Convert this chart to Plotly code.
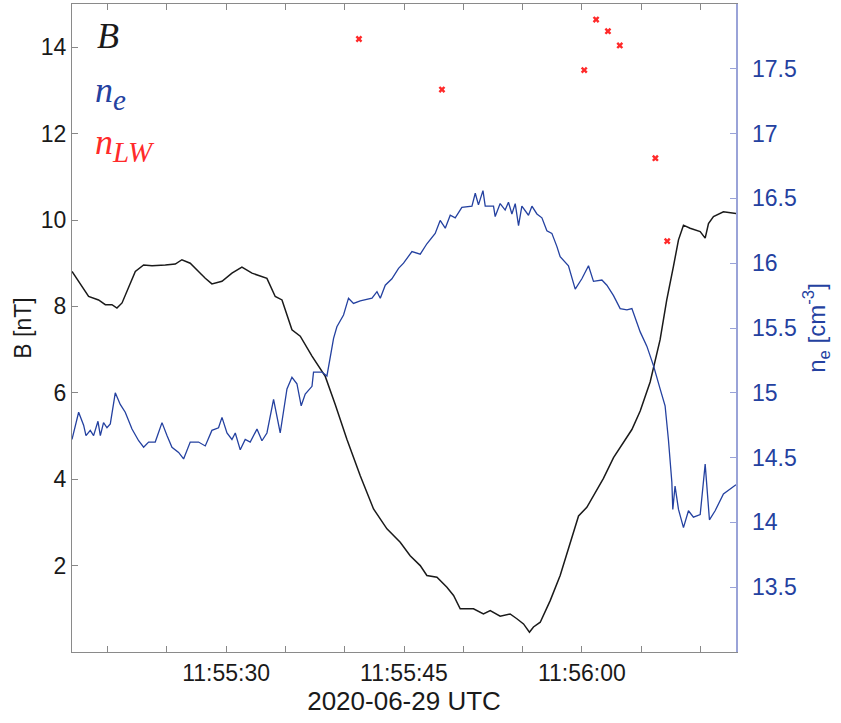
import plotly.graph_objects as go
import pandas as pd

DAY = "2020-06-29 11:55:00"

# Magnetic field |B| [nT]; time in seconds after 11:55:00
b_sec = [17.0, 18.40, 19.24, 19.81, 20.37, 20.79, 21.22, 21.77, 22.34, 23.04, 23.75, 24.87,
         25.71, 26.27, 26.97, 27.67, 28.24, 28.80, 29.65, 30.49, 31.33, 32.18, 33.44, 34.14,
         34.71, 35.55, 36.25, 37.24, 38.36, 39.20, 40.19, 41.31, 42.43, 43.56, 44.68, 45.52,
         46.37, 46.93, 47.78, 48.62, 49.18, 49.74, 50.86, 51.70, 52.27, 53.11, 53.95, 54.52,
         55.08, 55.58, 55.92, 56.49, 57.33, 58.17, 59.02, 59.72, 60.42, 61.27, 61.82, 62.67,
         63.51, 64.22, 64.92, 65.76, 66.60, 67.16, 67.72, 68.15, 68.57, 69.13, 69.98, 70.40,
         70.68, 71.10, 71.94, 73.0]
b_val = [8.81, 8.23, 8.15, 8.04, 8.04, 7.96, 8.08, 8.46, 8.81, 8.96, 8.94, 8.96,
         8.98, 9.08, 9.00, 8.81, 8.65, 8.52, 8.58, 8.77, 8.91, 8.77, 8.65, 8.23,
         8.15, 7.46, 7.31, 6.85, 6.38, 5.73, 4.92, 4.08, 3.31, 2.85, 2.54, 2.23,
         2.00, 1.77, 1.73, 1.50, 1.31, 1.00, 1.00, 0.88, 0.96, 0.83, 0.88, 0.77,
         0.65, 0.46, 0.58, 0.69, 1.19, 1.77, 2.50, 3.15, 3.35, 3.77, 4.02, 4.50,
         4.85, 5.15, 5.58, 6.25, 7.23, 8.15, 8.92, 9.54, 9.88, 9.81, 9.73, 9.58,
         9.92, 10.08, 10.19, 10.15]

# Electron density n_e [cm^-3]
ne_sec = [17.0, 17.56, 17.98, 18.18, 18.54, 18.82, 19.19, 19.39, 19.66, 19.95, 20.23, 20.65,
          21.07, 21.49, 22.06, 22.62, 23.04, 23.46, 24.02, 24.59, 25.01, 25.43, 25.99, 26.41,
          26.97, 27.67, 28.24, 28.80, 29.36, 29.65, 30.07, 30.49, 30.77, 31.19, 31.61, 32.03,
          32.60, 33.02, 33.44, 34.00, 34.56, 35.13, 35.55, 35.97, 36.33, 36.67, 37.24, 37.37,
          38.08, 38.50, 39.06, 39.34, 39.90, 40.32, 40.74, 41.31, 42.30, 42.72, 43.00, 43.42,
          43.98, 44.54, 44.96, 45.67, 46.37, 46.93, 47.63, 48.05, 48.48, 48.90, 49.32, 49.88,
          50.73, 51.01, 51.28, 51.66, 51.85, 52.55, 52.69, 53.11, 53.53, 53.81, 54.10, 54.38,
          54.66, 54.94, 55.50, 55.79, 56.21, 56.63, 57.05, 57.47, 57.89, 58.17, 58.87, 59.44,
          60.00, 60.56, 60.98, 61.69, 62.11, 62.67, 63.23, 63.80, 64.22, 64.92, 65.48, 66.04,
          66.60, 67.02, 67.30, 67.59, 67.67, 67.86, 68.15, 68.57, 68.99, 69.41, 69.98, 70.40,
          70.76, 71.24, 71.94, 72.51, 73.0]
ne_val = [14.64, 14.85, 14.75, 14.67, 14.71, 14.67, 14.78, 14.67, 14.77, 14.73, 14.76, 15.00,
          14.91, 14.85, 14.72, 14.63, 14.58, 14.62, 14.62, 14.77, 14.67, 14.58, 14.54, 14.49,
          14.62, 14.62, 14.59, 14.71, 14.73, 14.81, 14.69, 14.64, 14.69, 14.56, 14.64, 14.62,
          14.72, 14.63, 14.69, 14.95, 14.69, 15.03, 15.12, 15.07, 14.90, 14.99, 15.05, 15.16,
          15.16, 15.13, 15.42, 15.51, 15.60, 15.73, 15.69, 15.71, 15.73, 15.78, 15.73, 15.83,
          15.88, 15.96, 16.00, 16.09, 16.07, 16.15, 16.23, 16.33, 16.27, 16.37, 16.35, 16.43,
          16.44, 16.54, 16.45, 16.56, 16.44, 16.44, 16.36, 16.46, 16.41, 16.47, 16.38, 16.46,
          16.29, 16.44, 16.37, 16.44, 16.38, 16.35, 16.25, 16.23, 16.13, 16.05, 15.98, 15.80,
          15.88, 15.98, 15.86, 15.87, 15.83, 15.75, 15.65, 15.64, 15.65, 15.47, 15.36, 15.21,
          15.03, 14.90, 14.64, 14.31, 14.10, 14.28, 14.10, 13.96, 14.09, 14.04, 14.06, 14.45,
          14.02, 14.09, 14.22, 14.26, 14.29]

# n_LW estimates [cm^-3]
lw_sec = [41.2, 48.2, 60.2, 61.2, 62.2, 63.2, 66.2, 67.2]
lw_val = [17.73, 17.34, 17.49, 17.88, 17.79, 17.68, 16.81, 16.17]

b_ticks = [2, 4, 6, 8, 10, 12, 14]
ne_ticks = [13.5, 14, 14.5, 15, 15.5, 16, 16.5, 17, 17.5]
ne_tick_text = ["13.5", "14", "14.5", "15", "15.5", "16", "16.5", "17", "17.5"]
ne_range = [13, 18]


def to_time(secs):
    return pd.Timestamp(DAY) + pd.to_timedelta(secs, unit="s")


BLUE = "#2441a0"
RED = "#ff2a2a"
AXBLUE = "#9aa3d8"
FONT = "Liberation Sans"
TICK = 23

fig = go.Figure()
fig.add_trace(go.Scatter(x=to_time(ne_sec), y=ne_val, mode="lines", yaxis="y2",
                         line=dict(color=BLUE, width=1.3), showlegend=False))
fig.add_trace(go.Scatter(x=to_time(b_sec), y=b_val, mode="lines",
                         line=dict(color="#1a1a1a", width=1.5), showlegend=False))
fig.add_trace(go.Scatter(x=to_time(lw_sec), y=lw_val, mode="markers", yaxis="y2",
                         marker=dict(symbol="x", size=6, color=RED, line=dict(width=0)),
                         showlegend=False))

fig.update_layout(
    width=841, height=723,
    margin=dict(l=72, r=105, t=4, b=71),
    paper_bgcolor="white", plot_bgcolor="white",
    font=dict(family=FONT, size=TICK, color="#1a1a1a"),
    xaxis=dict(
        range=[to_time(17.0), to_time(73.0)],
        tick0=to_time(0.0), dtick=15000, tickformat="%H:%M:%S",
        ticks="inside", ticklen=6, tickcolor="#888888",
        minor=dict(dtick=5000, ticks="inside", ticklen=6, tickcolor="#888888"),
        showline=True, linecolor="#8a8a8a", linewidth=1.2, mirror="ticks",
        showgrid=False, zeroline=False,
        tickfont=dict(size=TICK, color="#1a1a1a"),
        title=dict(text="2020-06-29 UTC", font=dict(size=26, color="#1a1a1a"), standoff=5),
    ),
    yaxis=dict(
        range=[0, 15], tickvals=b_ticks,
        ticks="inside", ticklen=6, tickcolor="#888888",
        showline=True, linecolor="#8a8a8a", linewidth=1.2,
        showgrid=False, zeroline=False,
        tickfont=dict(size=TICK, color="#1a1a1a"),
        title=dict(text="B [nT]", font=dict(size=23, color="#1a1a1a"), standoff=2),
    ),
    yaxis2=dict(
        range=ne_range, tickvals=ne_ticks,
        overlaying="y", side="right",
        ticks="inside", ticklen=6, tickcolor=AXBLUE,
        showticklabels=False,
        showline=True, linecolor=AXBLUE, linewidth=1.5,
        showgrid=False, zeroline=False,
        title=dict(text="n<sub>e</sub> [cm<sup>-3</sup>]", font=dict(size=24, color=BLUE), standoff=71),
    ),
)

# right-axis tick labels, placed at the tick values on the n_e axis
for v, t in zip(ne_ticks, ne_tick_text):
    fig.add_annotation(x=1, y=v, xref="paper", yref="y2", xanchor="left", yanchor="middle",
                       xshift=14, text=t, showarrow=False,
                       font=dict(family=FONT, size=TICK, color=BLUE))

label_font = "Liberation Serif"
fig.add_annotation(x=0.035, y=0.95, xref="paper", yref="paper", xanchor="left", yanchor="middle",
                   text="<i>B</i>", showarrow=False,
                   font=dict(family=label_font, size=36, color="#1a1a1a"))
fig.add_annotation(x=0.031, y=0.863, xref="paper", yref="paper", xanchor="left", yanchor="middle",
                   text="<i>n</i><sub><i><span style='font-size:29px'>e</span></i></sub>",
                   showarrow=False, font=dict(family=label_font, size=36, color=BLUE))
fig.add_annotation(x=0.031, y=0.783, xref="paper", yref="paper", xanchor="left", yanchor="middle",
                   text="<i>n</i><sub><i><span style='font-size:29px'>LW</span></i></sub>",
                   showarrow=False, font=dict(family=label_font, size=36, color=RED))

fig.write_html("out.html")
